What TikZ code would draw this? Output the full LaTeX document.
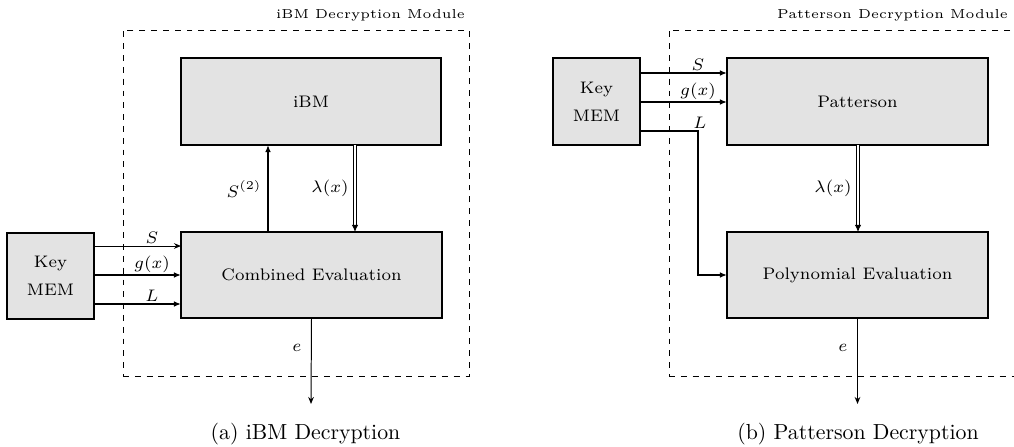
\documentclass[tikz,border=0pt]{standalone}
\usetikzlibrary{arrows.meta}
\newcommand\tA[1]{\scalebox{1.7}{\fontsize{7}{11.7}\selectfont #1}}
\newcommand\tE[1]{\scalebox{1.7}{\fontsize{7}{8}\selectfont #1}}
\newcommand\tT[1]{\scalebox{1.85}{\fontsize{5}{6}\selectfont #1}}
\newcommand\tC[1]{\scalebox{1.55}{\fontsize{10}{12}\selectfont #1}}
\begin{document}
\begin{tikzpicture}[x=0.025cm,y=-0.025cm,
  blk/.style={draw, line width=1.4pt, fill=black!11, inner sep=0pt, outer sep=0pt},
  frame/.style={draw, line width=0.7pt, dash pattern=on 4.2pt off 4.2pt, inner sep=0pt, outer sep=0pt},
  thk/.style={line width=1.4pt, -{Latex[length=5pt,width=4pt]}},
  thn/.style={line width=0.7pt, -{Stealth[length=5pt,width=4pt]}},
  dbl/.style={double, double distance=1.3pt, line width=0.65pt, -{Latex[length=5pt,width=4.5pt]}},
  lbl/.style={inner sep=1.5pt}
]
\useasboundingbox (0,0) rectangle (1014,447);

% ---------------- (a) ----------------
\node[frame, minimum width=346*0.025cm, minimum height=346*0.025cm] (modA) at (296,203) {};
\node[anchor=base east, inner sep=0pt] (titA) at (465,18) {\tT{iBM Decryption Module}};
\node[blk, minimum width=87*0.025cm, minimum height=86*0.025cm] (keyA) at (50.5,276)
  {\tA{\begin{tabular}{@{}c@{}}Key\\MEM\end{tabular}}};
\node[blk, minimum width=260*0.025cm, minimum height=87*0.025cm] (ibm) at (311,101.5) {\tA{iBM}};
\node[blk, minimum width=261*0.025cm, minimum height=86*0.025cm] (comb) at (311.5,275) {\tA{Combined Evaluation}};

\draw[thn] (keyA.east |- 0,246) -- (comb.west |- 0,246);
\draw[thk] (keyA.east |- 0,275) -- (comb.west |- 0,275);
\draw[thk] (keyA.east |- 0,304) -- (comb.west |- 0,304);
\node[lbl, anchor=south] (lSA) at (152,246) {\tA{$S$}};
\node[lbl, anchor=south] (lgA) at (152,275) {\tA{$g(x)$}};
\node[lbl, anchor=south] (lLA) at (152,304) {\tA{$L$}};

\draw[thk] (comb.north -| 268,0) -- (ibm.south -| 268,0);
\node[lbl, anchor=east] (lS2) at (264,189) {\tA{$S^{(2)}$}};
\draw[dbl] (ibm.south -| 355,0) -- (comb.north -| 355,0);
\node[lbl, anchor=east] (lamA) at (351,188) {\tA{$\lambda(x)$}};

\coordinate (outA) at (311,404);
\draw[thn] (comb.south) -- (outA);
\node[lbl] (eA) at (297,348) {\tE{$e$}};

\node[anchor=base] (capA) at (305.5,439) {\tC{(a) iBM Decryption}};

% ---------------- (b) ----------------
\node[frame, minimum width=346*0.025cm, minimum height=346*0.025cm] (modB) at (842,203) {};
\node[anchor=base east, inner sep=0pt] (titB) at (1008,18) {\tT{Patterson Decryption Module}};
\node[blk, minimum width=87*0.025cm, minimum height=87*0.025cm] (keyB) at (596.5,101.5)
  {\tA{\begin{tabular}{@{}c@{}}Key\\MEM\end{tabular}}};
\node[blk, minimum width=261*0.025cm, minimum height=87*0.025cm] (patt) at (857.5,101.5) {\tA{Patterson}};
\node[blk, minimum width=261*0.025cm, minimum height=86*0.025cm] (poly) at (857.5,275) {\tA{Polynomial Evaluation}};

\draw[thk] (keyB.east |- 0,73) -- (patt.west |- 0,73);
\draw[thk] (keyB.east |- 0,102) -- (patt.west |- 0,102);
\draw[thk] (keyB.east |- 0,131) -| (698,275) -- (poly.west |- 0,275);
\node[lbl, anchor=south] (lSB) at (698,73) {\tA{$S$}};
\node[lbl, anchor=south] (lgB) at (698,102) {\tA{$g(x)$}};
\node[lbl, anchor=south] (lLB) at (700,131) {\tA{$L$}};

\draw[dbl] (patt.south -| 858,0) -- (poly.north -| 858,0);
\node[lbl, anchor=east] (lamB) at (854,188) {\tA{$\lambda(x)$}};

\coordinate (outB) at (857.5,404);
\draw[thn] (poly.south) -- (outB);
\node[lbl] (eB) at (843,348) {\tE{$e$}};

\node[anchor=base] (capB) at (858,439) {\tC{(b) Patterson Decryption}};
\end{tikzpicture}
\end{document}
